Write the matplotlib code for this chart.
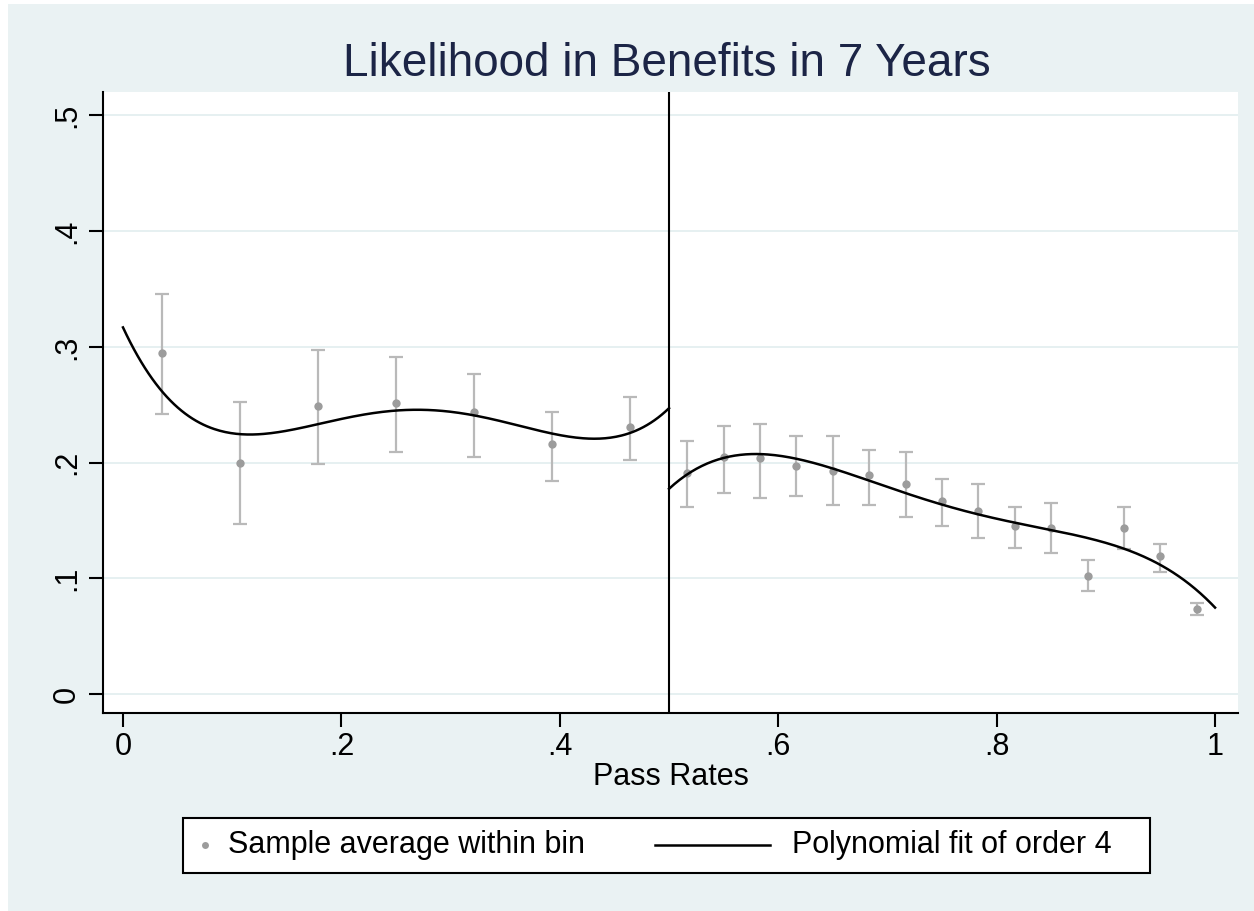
import numpy as np
import matplotlib
matplotlib.use("Agg")
import matplotlib.pyplot as plt
from matplotlib.patches import Rectangle
from matplotlib.lines import Line2D

plt.rcParams['font.family'] = ['Liberation Sans', 'DejaVu Sans']

# Bin averages with confidence bounds, left of the cutoff (7 bins)
left_x = [0.0357, 0.1071, 0.1786, 0.2500, 0.3214, 0.3929, 0.4643]
left_mean = [0.2945, 0.1997, 0.2492, 0.2515, 0.2435, 0.2163, 0.2308]
left_lo = [0.2417, 0.1467, 0.1988, 0.2089, 0.2046, 0.1841, 0.2025]
left_hi = [0.3455, 0.2521, 0.2976, 0.2915, 0.2768, 0.2437, 0.2564]

# Bin averages with confidence bounds, right of the cutoff (15 bins)
right_x = [0.5167, 0.5500, 0.5833, 0.6167, 0.6500, 0.6833, 0.7167, 0.7500,
           0.7833, 0.8167, 0.8500, 0.8833, 0.9167, 0.9500, 0.9833]
right_mean = [0.1913, 0.2045, 0.2037, 0.1973, 0.1930, 0.1893, 0.1812, 0.1668,
              0.1584, 0.1452, 0.1438, 0.1023, 0.1438, 0.1193, 0.0732]
right_lo = [0.1613, 0.1737, 0.1697, 0.1714, 0.1630, 0.1630, 0.1530, 0.1450,
            0.1346, 0.1262, 0.1219, 0.0890, 0.1250, 0.1054, 0.0683]
right_hi = [0.2190, 0.2316, 0.2334, 0.2233, 0.2233, 0.2109, 0.2089, 0.1858,
            0.1818, 0.1614, 0.1654, 0.1156, 0.1614, 0.1299, 0.0786]

# Fitted-curve values on each side of the cutoff
fit_left_x = [0.0, 0.025, 0.05, 0.075, 0.1, 0.125, 0.15, 0.2, 0.25, 0.3,
              0.35, 0.4, 0.45, 0.475, 0.5]
fit_left_y = [0.3146, 0.278, 0.248, 0.2325, 0.2247, 0.2238, 0.2267, 0.2368,
              0.2469, 0.244, 0.2354, 0.223, 0.221, 0.231, 0.247]
fit_right_x = [0.5, 0.525, 0.55, 0.575, 0.6, 0.65, 0.7, 0.75, 0.8, 0.85,
               0.9, 0.95, 1.0]
fit_right_y = [0.1778, 0.195, 0.2028, 0.2072, 0.2057, 0.1956, 0.1806, 0.1625,
               0.1518, 0.1403, 0.1308, 0.113, 0.074]

cutoff = 0.5
x_ticks = [0, 0.2, 0.4, 0.6, 0.8, 1.0]
x_tick_labels = ['0', '.2', '.4', '.6', '.8', '1']
y_ticks = [0, 0.1, 0.2, 0.3, 0.4, 0.5]
y_tick_labels = ['0', '.1', '.2', '.3', '.4', '.5']

BG = '#EAF2F3'
MARK = '#9c9c9c'
BAR = '#b9b9b9'

W, H = 1254, 911
fig = plt.figure(figsize=(W / 100, H / 100), dpi=100, facecolor='white')
fig.patches.append(Rectangle((8 / W, 0), 1 - 8 / W, 1 - 4 / H,
                             transform=fig.transFigure, facecolor=BG,
                             edgecolor='none', zorder=-10))

ax = fig.add_axes([103 / W, 1 - 713 / H, (1238 - 103) / W, (713 - 92) / H])
ax.set_facecolor('white')
ax.set_xlim(-0.0183, 1.021)
ax.set_ylim(-0.0164, 0.5203)

for y in y_ticks:
    ax.axhline(y, color='#e6f0f1', lw=1.4, zorder=0)


def draw_side(xs, mean, lo, hi, fx, fy, lo_edge, hi_edge):
    mean = np.asarray(mean)
    yerr = [mean - np.asarray(lo), np.asarray(hi) - mean]
    ax.errorbar(xs, mean, yerr=yerr, fmt='none', ecolor=BAR, elinewidth=1.6,
                capsize=4.8, capthick=1.6, zorder=2)
    ax.plot(xs, mean, 'o', color=MARK, ms=6, mec='none', zorder=3)
    coef = np.polyfit(fx, fy, 4)
    xx = np.linspace(lo_edge, hi_edge, 300)
    ax.plot(xx, np.polyval(coef, xx), color='black', lw=1.8, zorder=4)


draw_side(left_x, left_mean, left_lo, left_hi, fit_left_x, fit_left_y, 0.0, cutoff)
draw_side(right_x, right_mean, right_lo, right_hi, fit_right_x, fit_right_y, cutoff, 1.0)

ax.axvline(cutoff, color='black', lw=1.5, zorder=5)

for s in ['top', 'right']:
    ax.spines[s].set_visible(False)
for s in ['left', 'bottom']:
    ax.spines[s].set_linewidth(1.5)
    ax.spines[s].set_color('black')

ax.set_xticks(x_ticks)
ax.set_xticklabels(x_tick_labels)
ax.set_yticks(y_ticks)
ax.set_yticklabels(y_tick_labels, rotation=90, va='center')
ax.tick_params(axis='both', direction='out', length=10, width=1.5,
               labelsize=22, colors='black')
ax.tick_params(axis='y', pad=5)
ax.tick_params(axis='x', pad=4)
ax.set_xlabel('Pass Rates', fontsize=22, labelpad=0)

fig.text(667 / W, 1 - 64 / H, 'Likelihood in Benefits in 7 Years',
         ha='center', va='center', fontsize=33, color='#1c2546')

# Legend box
lx0, lx1, ly0, ly1 = 183, 1150, 818, 873
fig.patches.append(Rectangle((lx0 / W, 1 - ly1 / H), (lx1 - lx0) / W,
                             (ly1 - ly0) / H, transform=fig.transFigure,
                             facecolor='white', edgecolor='black', lw=1.5))
ly = 1 - 845 / H
fig.lines.append(Line2D([205 / W], [ly], marker='o', ms=5, color=MARK,
                        mec='none', transform=fig.transFigure))
fig.text(228 / W, ly, 'Sample average within bin', ha='left', va='center',
         fontsize=22)
fig.lines.append(Line2D([655 / W, 770 / W], [ly, ly], color='black', lw=1.8,
                        transform=fig.transFigure))
fig.text(792 / W, ly, 'Polynomial fit of order 4', ha='left', va='center',
         fontsize=22)

fig.savefig('out.png', dpi=100, facecolor=fig.get_facecolor())
